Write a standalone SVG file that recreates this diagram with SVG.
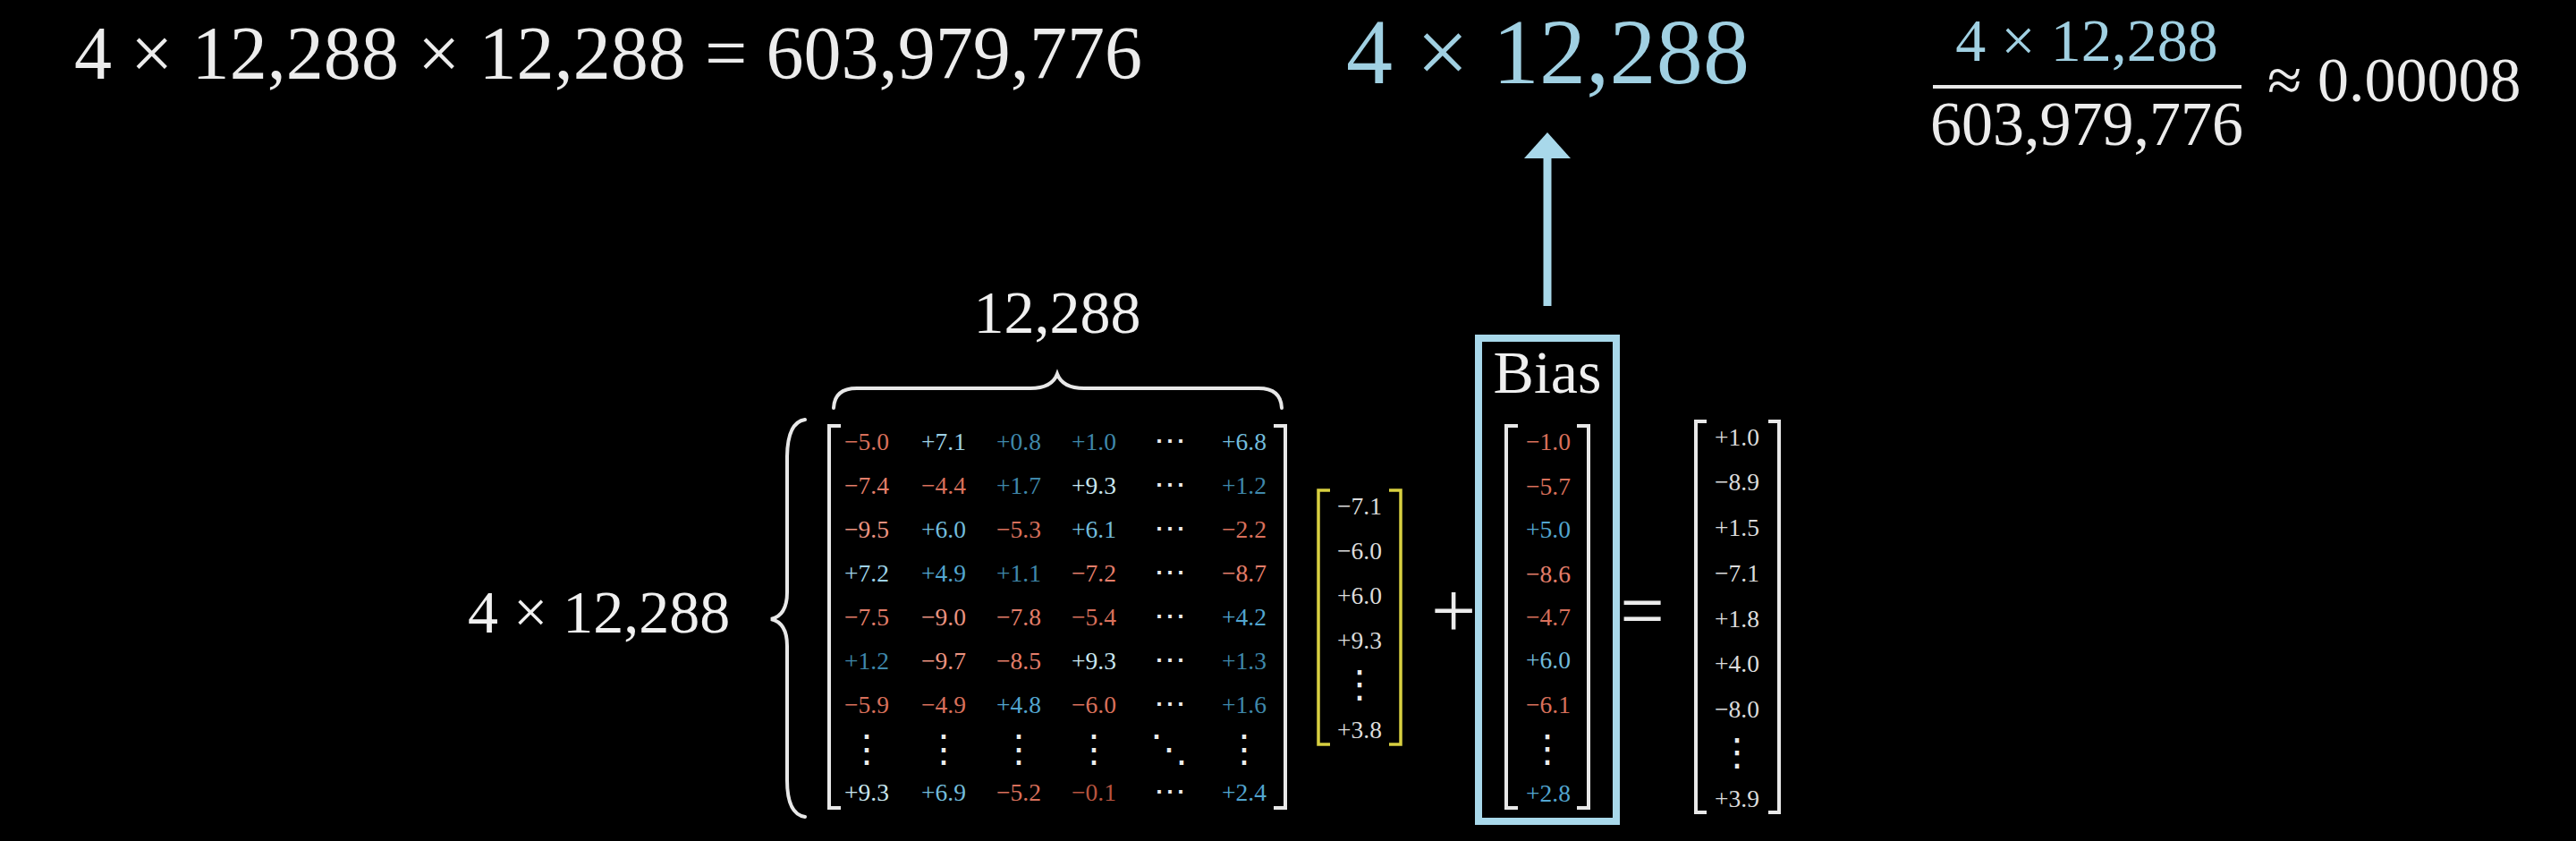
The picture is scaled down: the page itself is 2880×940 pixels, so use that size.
<svg xmlns="http://www.w3.org/2000/svg" width="2880" height="940" viewBox="0 0 2880 940">
<style>
text{font-family:"Liberation Serif","DejaVu Serif",serif;}
.w{fill:#ececec;}
.lb{fill:#a0d0e2;}
.n{font-size:27.5px;text-anchor:middle;}
.g{fill:#dcdcdc;}
.dots{font-family:"DejaVu Sans",sans-serif;font-size:42px;text-anchor:middle;fill:#ececec;}
.cd{font-family:"DejaVu Sans",sans-serif;font-size:36px;text-anchor:middle;fill:#ececec;}
.br{fill:none;stroke:#e8e8e8;stroke-width:4;}
.ybr{fill:none;stroke:#d8d040;stroke-width:3.5;}
.lbl{font-size:68px;fill:#f0f0f0;}
.p1{fill:#3f88ab}.p2{fill:#52a6d0}.p3{fill:#72bcdc}.p4{fill:#9ed2e6}.p5{fill:#c9e6ef}
.m1{fill:#b9543f}.m2{fill:#d9705b}.m3{fill:#e47e6a}.m4{fill:#eb9380}
</style>
<rect width="2880" height="940" fill="#000"/>

<g id="equation-top">
<text x="83" y="88" font-size="84" class="w" textLength="1194">4 × 12,288 × 12,288 = 603,979,776</text>
</g>

<g id="bias-size-label">
<text x="1505" y="93" font-size="104" class="lb" textLength="451">4 × 12,288</text>
</g>

<g id="fraction">
<text x="2333" y="68" font-size="68" class="lb" text-anchor="middle">4 × 12,288</text>
<rect x="2161" y="95" width="345" height="4" fill="#e8e8e8"/>
<text x="2333" y="162" font-size="70" class="w" text-anchor="middle">603,979,776</text>
<text x="2535" y="113" font-size="70" class="w">≈ 0.00008</text>
</g>

<g id="matrix">
<text x="1182" y="372" class="lbl" text-anchor="middle">12,288</text>
<path class="br" stroke-width="6" stroke-linecap="round" d="M932 456 Q933 434 958 434 L1152 434 Q1176 434 1182 418 Q1188 434 1212 434 L1407 434 Q1432 434 1433 456"/>
<text x="523" y="707" class="lbl">4 × 12,288</text>
<path class="br" stroke-width="6" stroke-linecap="round" d="M900 469 Q880 472 880 512 L880 662 Q880 688 862 692 Q880 696 880 722 L880 872 Q880 910 900 913"/>
<path class="br" d="M940 476 H927 V903 H940"/>
<path class="br" d="M1424 476 H1437 V903 H1424"/>
<g class="n">
<text x="969" y="503" class="m2">−5.0</text><text x="1055" y="503" class="p4">+7.1</text><text x="1139" y="503" class="p1">+0.8</text><text x="1223" y="503" class="p1">+1.0</text><text x="1391" y="503" class="p3">+6.8</text>
<text x="969" y="552" class="m3">−7.4</text><text x="1055" y="552" class="m2">−4.4</text><text x="1139" y="552" class="p1">+1.7</text><text x="1223" y="552" class="p5">+9.3</text><text x="1391" y="552" class="p1">+1.2</text>
<text x="969" y="601" class="m4">−9.5</text><text x="1055" y="601" class="p3">+6.0</text><text x="1139" y="601" class="m2">−5.3</text><text x="1223" y="601" class="p3">+6.1</text><text x="1391" y="601" class="m2">−2.2</text>
<text x="969" y="650" class="p4">+7.2</text><text x="1055" y="650" class="p2">+4.9</text><text x="1139" y="650" class="p1">+1.1</text><text x="1223" y="650" class="m3">−7.2</text><text x="1391" y="650" class="m3">−8.7</text>
<text x="969" y="699" class="m3">−7.5</text><text x="1055" y="699" class="m4">−9.0</text><text x="1139" y="699" class="m3">−7.8</text><text x="1223" y="699" class="m2">−5.4</text><text x="1391" y="699" class="p2">+4.2</text>
<text x="969" y="748" class="p1">+1.2</text><text x="1055" y="748" class="m4">−9.7</text><text x="1139" y="748" class="m3">−8.5</text><text x="1223" y="748" class="p5">+9.3</text><text x="1391" y="748" class="p1">+1.3</text>
<text x="969" y="797" class="m2">−5.9</text><text x="1055" y="797" class="m2">−4.9</text><text x="1139" y="797" class="p2">+4.8</text><text x="1223" y="797" class="m2">−6.0</text><text x="1391" y="797" class="p1">+1.6</text>
<text x="969" y="895" class="p5">+9.3</text><text x="1055" y="895" class="p3">+6.9</text><text x="1139" y="895" class="m2">−5.2</text><text x="1223" y="895" class="m1">−0.1</text><text x="1391" y="895" class="p2">+2.4</text>
</g>
<g class="cd">
<text x="1308" y="505">⋯</text><text x="1308" y="554">⋯</text><text x="1308" y="603">⋯</text><text x="1308" y="652">⋯</text><text x="1308" y="701">⋯</text><text x="1308" y="750">⋯</text><text x="1308" y="799">⋯</text><text x="1308" y="897">⋯</text>
</g>
<g class="dots">
<text x="969" y="851">⋮</text><text x="1055" y="851">⋮</text><text x="1139" y="851">⋮</text><text x="1223" y="851">⋮</text><text x="1307" y="851">⋱</text><text x="1391" y="851">⋮</text>
</g>
</g>

<g id="input-vector">
<path class="ybr" d="M1487 548 H1474 V832 H1487"/>
<path class="ybr" d="M1553 548 H1566 V832 H1553"/>
<g class="n g">
<text x="1520" y="575">−7.1</text><text x="1520" y="625">−6.0</text><text x="1520" y="675">+6.0</text><text x="1520" y="725">+9.3</text><text x="1520" y="825">+3.8</text>
</g>
<text x="1520" y="779" class="dots">⋮</text>
</g>

<g id="plus">
<text x="1625" y="712" font-size="89" class="w" text-anchor="middle">+</text>
</g>

<g id="equals">
<text x="1836" y="712" font-size="88" class="w" text-anchor="middle">=</text>
</g>

<g id="bias">
<rect x="1653" y="378" width="154" height="540" fill="none" stroke="#a8d8ea" stroke-width="8"/>
<text x="1730" y="439" class="lbl" text-anchor="middle">Bias</text>
<path class="br" d="M1697 476 H1684 V903 H1697"/>
<path class="br" d="M1763 476 H1776 V903 H1763"/>
<g class="n">
<text x="1731" y="503" class="m2">−1.0</text><text x="1731" y="553" class="m2">−5.7</text><text x="1731" y="601" class="p2">+5.0</text><text x="1731" y="651" class="m3">−8.6</text><text x="1731" y="699" class="m2">−4.7</text><text x="1731" y="747" class="p3">+6.0</text><text x="1731" y="797" class="m2">−6.1</text><text x="1731" y="896" class="p2">+2.8</text>
</g>
<text x="1730" y="851" class="dots">⋮</text>
</g>

<g id="result">
<path class="br" d="M1908 471 H1896 V908 H1908"/>
<path class="br" d="M1977 471 H1989 V908 H1977"/>
<g class="n g">
<text x="1942" y="498">+1.0</text><text x="1942" y="548">−8.9</text><text x="1942" y="599">+1.5</text><text x="1942" y="650">−7.1</text><text x="1942" y="701">+1.8</text><text x="1942" y="751">+4.0</text><text x="1942" y="802">−8.0</text><text x="1942" y="902">+3.9</text>
</g>
<text x="1942" y="855" class="dots">⋮</text>
</g>

<g id="connectors">
<line x1="1730" y1="342" x2="1730" y2="172" stroke="#a8d8ea" stroke-width="9"/>
<polygon points="1704,177 1756,177 1730,148" fill="#a8d8ea"/>
</g>
</svg>
